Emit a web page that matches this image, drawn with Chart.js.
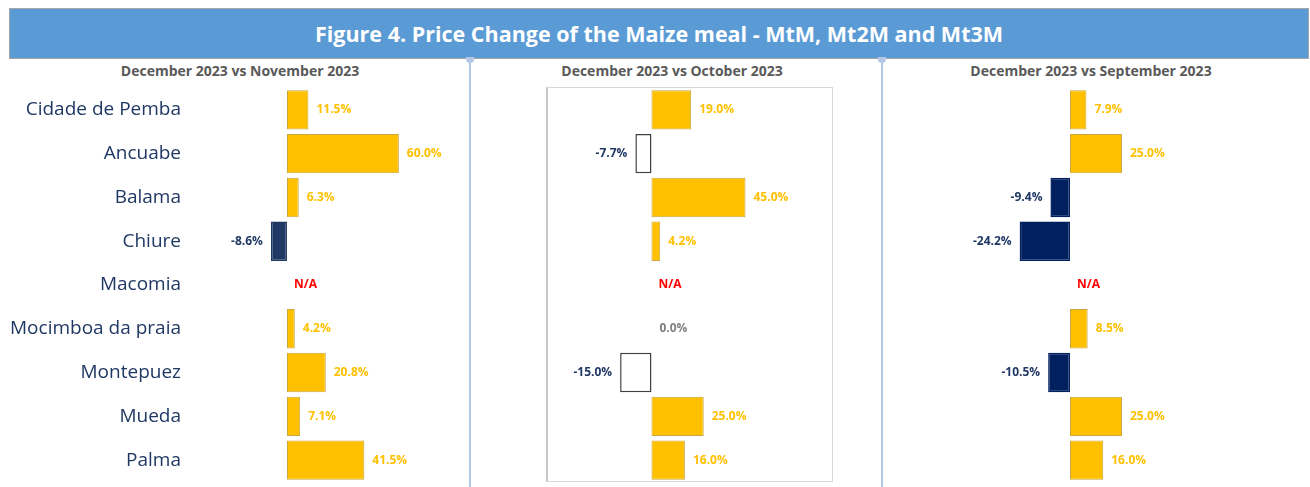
<!DOCTYPE html>
<html>
<head>
<meta charset="utf-8">
<script src="https://cdn.jsdelivr.net/npm/chart.js@4.4.0/dist/chart.umd.min.js"></script>
<style>
  body { margin: 0; width: 1310px; height: 487px; background: #fff; position: relative; overflow: hidden; font-family: "Open Sans", sans-serif; }
  #title { position: absolute; left: 9px; top: 8px; width: 1298px; height: 49px; background: #5B9BD5; border: 1px solid #A6A6A6;
           color: #fff; font-weight: bold; font-size: 21.5px; line-height: 49px; text-align: center; }
  .sub { position: absolute; top: 61px; font-size: 14px; font-weight: bold; color: #595959; text-align: center; }
  .sep { position: absolute; top: 59px; width: 2px; height: 430px; background: #B4C7E7; }
  .sep::before { content: ""; position: absolute; left: -3px; top: -2px; width: 8px; height: 6px; border-radius: 0 0 4px 4px; background: #B4C7E7; }
  #box { position: absolute; left: 546px; top: 87px; width: 284px; height: 393px; border: 1px solid #D9D9D9; border-left: 2px solid #C8C8C8; }
  canvas { position: absolute; }
</style>
</head>
<body>
<div id="title">Figure 4. Price Change of the Maize meal - MtM, Mt2M and Mt3M</div>
<div class="sep" style="left:469px"></div>
<div class="sep" style="left:881px"></div>
<div id="box"></div>
<div class="sub" style="left:40px;width:400px">December 2023 vs November 2023</div>
<div class="sub" style="left:472px;width:400px">December 2023 vs October 2023</div>
<div class="sub" style="left:891px;width:400px">December 2023 vs September 2023</div>

<canvas id="c1" width="466" height="394" style="left:0;top:88px"></canvas>
<canvas id="c2" width="285" height="394" style="left:547px;top:88px"></canvas>
<canvas id="c3" width="334" height="394" style="left:966px;top:88px"></canvas>

<script>
const districts = ['Cidade de Pemba', 'Ancuabe', 'Balama', 'Chiure', 'Macomia',
                   'Mocimboa da praia', 'Montepuez', 'Mueda', 'Palma'];

// % change, null = N/A
const mtm  = [11.5, 60.0, 6.3, -8.6, null, 4.2, 20.8, 7.1, 41.5];
const mt2m = [19.0, -7.7, 45.0, 4.2, null, 0.0, -15.0, 25.0, 16.0];
const mt3m = [7.9, 25.0, -9.4, -24.2, null, 8.5, -10.5, 25.0, 16.0];

const YELLOW = '#FFC000';

// category names, drawn at the y scale positions (only for the first panel)
const districtLabels = {
  id: 'districtLabels',
  afterDraw(chart, args, opts) {
    if (!opts.show) return;
    const ctx = chart.ctx, ys = chart.scales.y;
    ctx.save();
    ctx.font = '19px "Open Sans"';
    ctx.fillStyle = '#203864';
    ctx.textAlign = 'right';
    ctx.textBaseline = 'middle';
    chart.data.labels.forEach((l, i) => ctx.fillText(l, chart.chartArea.left - 9, ys.getPixelForValue(i)));
    ctx.restore();
  }
};

const valueLabels = {
  id: 'valueLabels',
  afterDatasetsDraw(chart) {
    const ctx = chart.ctx;
    const xs = chart.scales.x, ys = chart.scales.y;
    const vals = chart.data.datasets[0].data;
    ctx.save();
    ctx.font = 'bold 12px "Open Sans"';
    ctx.textBaseline = 'middle';
    vals.forEach((v, i) => {
      const y = ys.getPixelForValue(i);
      const x0 = xs.getPixelForValue(0);
      if (v === null) {
        ctx.fillStyle = '#FF0000';
        ctx.textAlign = 'left';
        ctx.fillText('N/A', x0 + 7, y);
      } else if (v > 0) {
        ctx.fillStyle = YELLOW;
        ctx.textAlign = 'left';
        ctx.fillText(v.toFixed(1) + '%', xs.getPixelForValue(v) + 8, y);
      } else if (v < 0) {
        ctx.fillStyle = '#203864';
        ctx.textAlign = 'right';
        ctx.fillText(v.toFixed(1) + '%', xs.getPixelForValue(v) - 8, y);
      } else {
        ctx.fillStyle = '#7F7F7F';
        ctx.textAlign = 'left';
        ctx.fillText('0.0%', x0 + 8, y);
      }
    });
    ctx.restore();
  }
};

function makeChart(id, values, negFill, negBorder, min, max, showLabels) {
  new Chart(document.getElementById(id), {
    type: 'bar',
    data: {
      labels: districts,
      datasets: [{
        data: values,
        backgroundColor: values.map(v => v < 0 ? negFill : YELLOW),
        borderColor: values.map(v => v < 0 ? negBorder : '#C9A640'),
        borderWidth: values.map(v => v < 0 ? 1.5 : 1),
        borderSkipped: false,
        barPercentage: 0.9,
        categoryPercentage: 1.0
      }]
    },
    options: {
      indexAxis: 'y',
      responsive: false,
      animation: false,
      layout: { padding: { left: showLabels ? 190 : 0 } },
      plugins: {
        legend: { display: false },
        tooltip: { enabled: false },
        districtLabels: { show: showLabels }
      },
      scales: {
        x: { display: false, min: min, max: max },
        y: { display: false }
      }
    },
    plugins: [valueLabels, districtLabels]
  });
}

makeChart('c1', mtm, '#203864', '#203864', -52, 96, true);
makeChart('c2', mt2m, '#FFFFFF', '#404040', -50, 86.4, false);
makeChart('c3', mt3m, '#002060', '#002060', -50, 110.6, false);
</script>
</body>
</html>
